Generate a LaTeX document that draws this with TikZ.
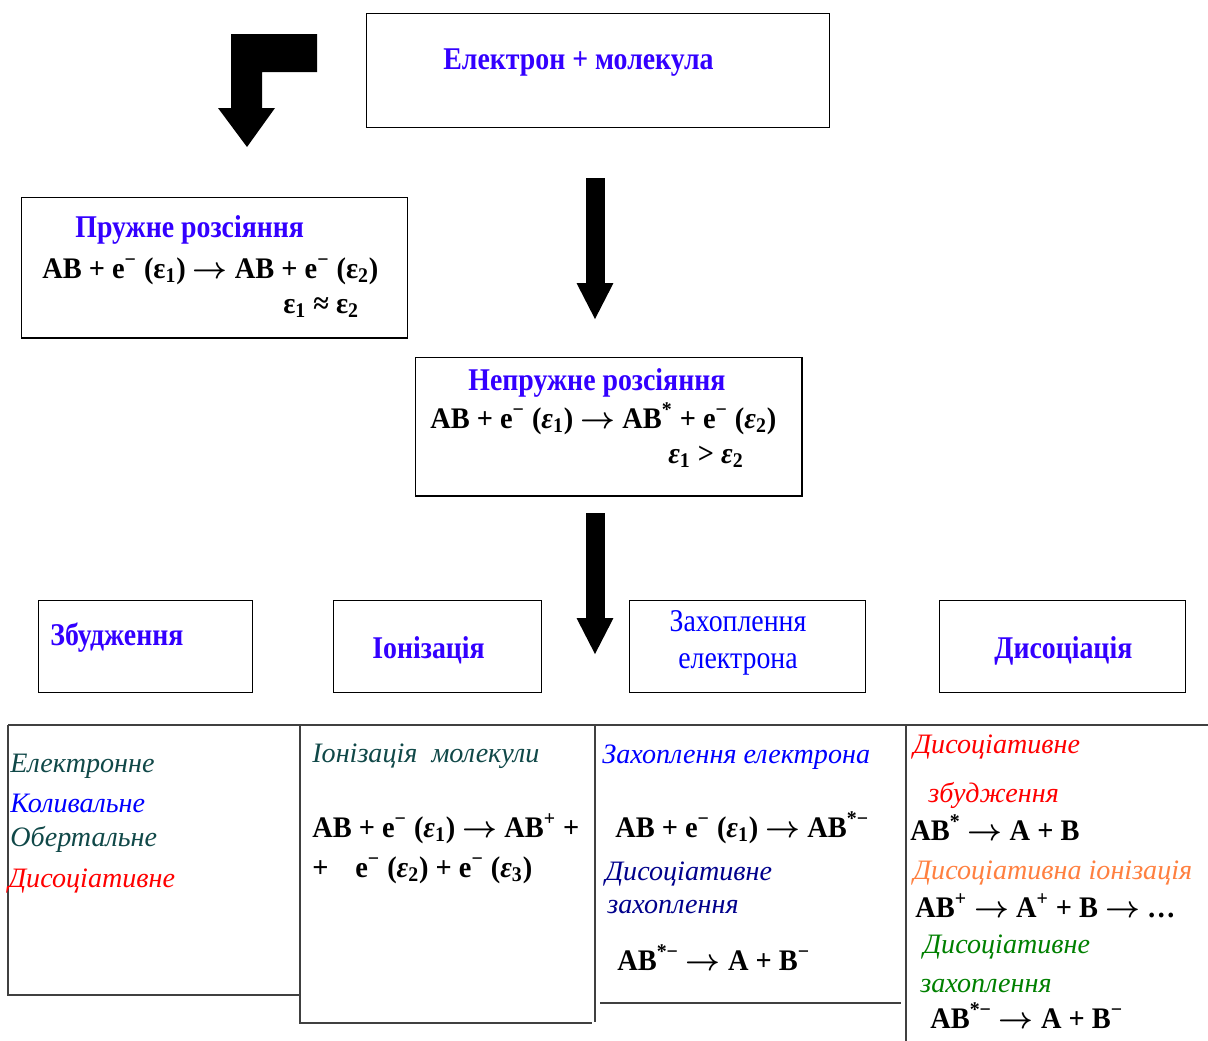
\documentclass[tikz,border=0pt]{standalone}
\usepackage{fontspec}
\setmainfont{Liberation Serif}
\newfontfamily\condserif[FakeStretch=0.88]{Liberation Serif}
\newfontfamily\eqnserif[FakeStretch=0.95]{Liberation Serif}
\usetikzlibrary{arrows.meta}
\definecolor{violetblue}{RGB}{51,0,255}
\definecolor{darkteal}{RGB}{16,72,72}
\definecolor{navyblue}{RGB}{0,0,139}
\definecolor{dissorange}{RGB}{255,128,64}
\definecolor{dissgreen}{RGB}{0,128,0}
\definecolor{rulegray}{RGB}{64,64,64}
\newcommand{\emin}{e\textsuperscript{−}}
\newcommand{\epsn}[1]{\textit{ε}\textsubscript{#1}}
\newcommand{\arr}{\ {\boldmath$\rightarrow$}\ }

\begin{document}
\begin{tikzpicture}[x=0.02cm,y=-0.02cm,
    every node/.style={inner sep=0pt},
    box/.style={draw,line width=0.6pt,anchor=north west},
    shadowedge/.style={line width=1.6pt},
    ttl/.style={font=\condserif\bfseries\fontsize{18}{21}\selectfont,text=violetblue,anchor=base west},
    eqn/.style={font=\eqnserif\bfseries\fontsize{17}{20}\selectfont,anchor=base west},
    lbl/.style={font=\itshape\fontsize{16}{19}\selectfont,anchor=base west},
    rule/.style={rulegray,line width=1.1pt},
    blockarrow/.style={line width=0.38cm,-{Triangle[width=0.68cm,length=0.74cm]}}]
    \useasboundingbox (0,0) rectangle (1208,1041);
    \node[box,minimum width=9.26cm,minimum height=2.28cm] (start) at (366,13) {};
    \node[box,minimum width=7.72cm,minimum height=2.8cm] (elastic) at (21,197) {};
    \node[box,minimum width=7.72cm,minimum height=2.76cm] (inelastic) at (415,357) {};
    \node[box,minimum width=4.28cm,minimum height=1.84cm] (excit) at (38,600) {};
    \node[box,minimum width=4.16cm,minimum height=1.84cm] (ioniz) at (333,600) {};
    \node[box,minimum width=4.72cm,minimum height=1.84cm] (capture) at (629,600) {};
    \node[box,minimum width=4.92cm,minimum height=1.84cm] (dissoc) at (939,600) {};
    \draw[shadowedge] (elastic.south west) -- (elastic.south east);
    \draw[shadowedge] (inelastic.north east) -- (inelastic.south east) -- (inelastic.south west);
    \node[ttl] (startlbl) at (443,70) {Електрон + молекула};
    \node[ttl] (elasticlbl) at (75,237) {Пружне розсіяння};
    \node[eqn] (elasticeq) at (42,278) {AB + \emin{} (ε\textsubscript{1})\arr{}AB + \emin{} (ε\textsubscript{2})};
    \node[eqn] (elasticcond) at (283,313) {ε\textsubscript{1} ≈ ε\textsubscript{2}};
    \node[ttl] (inelasticlbl) at (468,390) {Непружне розсіяння};
    \node[eqn] (inelasticeq) at (430,428) {AB + \emin{} (\epsn{1})\arr{}AB\textsuperscript{*} + \emin{} (\epsn{2})};
    \node[eqn] (inelasticcond) at (668,463) {\epsn{1} > \epsn{2}};
    \node[ttl] (excitlbl) at (50,645) {Збудження};
    \node[ttl] (ionizlbl) at (372,658) {Іонізація};
    \node[font=\condserif\fontsize{18}{21}\selectfont,text=blue,align=center,anchor=center] (capturelbl) at (738,643) {Захоплення\\електрона};
    \node[ttl] (dissoclbl) at (994,658) {Дисоціація};
    \fill (317,34) -- (231,34) -- (231,108) -- (218,108) -- (247,147) -- (275,108) -- (262,108) -- (262,72) -- (317,72) -- cycle;
    \coordinate (arrA) at (595,178);
    \coordinate (arrAtip) at (595,320);
    \coordinate (arrB) at (595,513);
    \coordinate (arrBtip) at (595,655);
    \draw[blockarrow] (arrA) -- (arrAtip);
    \draw[blockarrow] (arrB) -- (arrBtip);
    \draw[rule] (8,725) -- (1208,725);
    \draw[rule] (8,725) -- (8,995) -- (300,995);
    \draw[rule] (300,725) -- (300,1023) -- (592,1023);
    \draw[rule] (595,725) -- (595,1022);
    \draw[rule] (600,1003) -- (901,1003);
    \draw[rule] (906,725) -- (906,1041);
    \node[lbl,darkteal] (electronic) at (10,772) {Електронне};
    \node[lbl,blue] (vibrational) at (10,812) {Коливальне};
    \node[lbl,darkteal] (rotational) at (10,846) {Обертальне};
    \node[lbl,red] (dissexcit) at (8,887) {Дисоціативне};
    \node[lbl,darkteal] (molion) at (312,762) {Іонізація\ \ молекули};
    \node[eqn] (ioneqA) at (312,837) {AB + \emin{} (\epsn{1})\arr{}AB\textsuperscript{+} +};
    \node[eqn] (ioneqB) at (312,877) {+\hspace{0.9em}\emin{} (\epsn{2}) + \emin{} (\epsn{3})};
    \node[lbl,blue] (captlbl) at (602,763) {Захоплення електрона};
    \node[eqn] (capteq) at (615,837) {AB + \emin{} (\epsn{1})\arr{}AB\textsuperscript{*−}};
    \node[lbl,navyblue] (dcaptA) at (605,880) {Дисоціативне};
    \node[lbl,navyblue] (dcaptB) at (607,913) {захоплення};
    \node[eqn] (dcapteq) at (617,970) {AB\textsuperscript{*−}\arr{}A + B\textsuperscript{−}};
    \node[lbl,red] (dexcA) at (913,753) {Дисоціативне};
    \node[lbl,red] (dexcB) at (928,802) {збудження};
    \node[eqn] (dexceq) at (910,840) {AB\textsuperscript{*}\arr{}A + B};
    \node[lbl,dissorange] (dionlbl) at (913,879) {Дисоціативна іонізація};
    \node[eqn] (dioneq) at (915,917) {AB\textsuperscript{+}\arr{}A\textsuperscript{+} + B\arr{}…};
    \node[lbl,dissgreen] (dattA) at (923,953) {Дисоціативне};
    \node[lbl,dissgreen] (dattB) at (920,992) {захоплення};
    \node[eqn] (datteq) at (930,1028) {AB\textsuperscript{*−}\arr{}A + B\textsuperscript{−}};
\end{tikzpicture}
\end{document}
